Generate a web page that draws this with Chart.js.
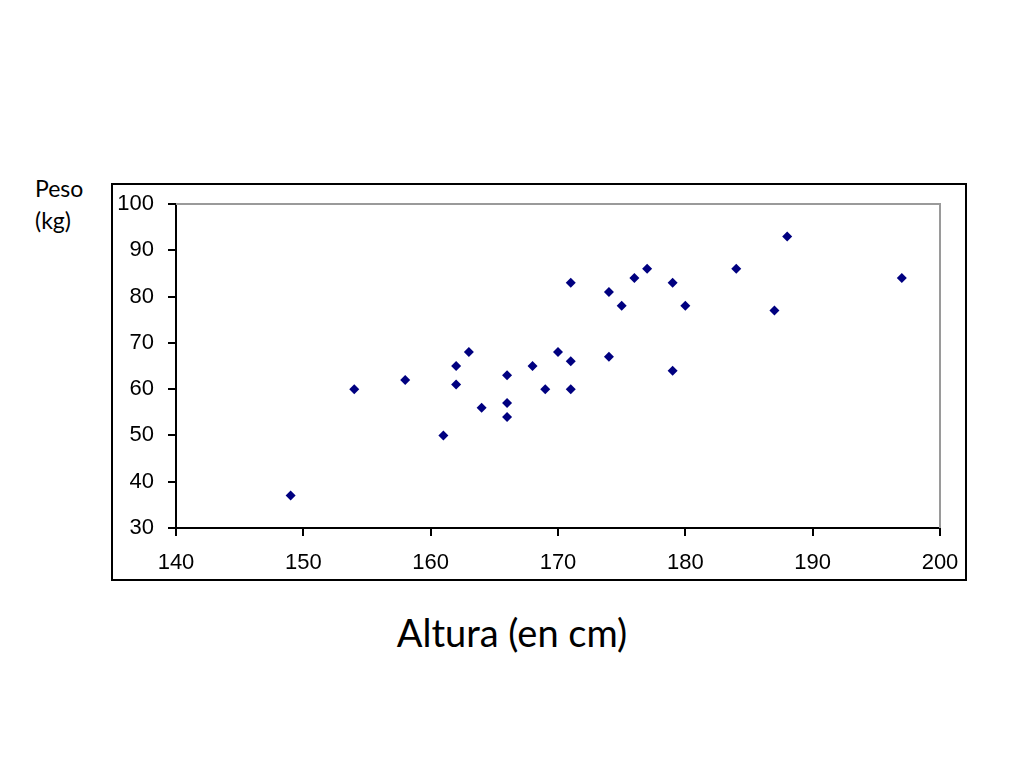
<!DOCTYPE html>
<html>
<head>
<meta charset="utf-8">
<script src="https://cdn.jsdelivr.net/npm/chart.js@4.4.0/dist/chart.umd.min.js"></script>
<style>
  html, body { margin: 0; padding: 0; background: #fff; }
  body { width: 1024px; height: 768px; position: relative; overflow: hidden; }
  #frame {
    position: absolute; left: 111px; top: 183px;
    width: 852px; height: 394px;
    border: 2px solid #000;
  }
  #frame canvas { display: block; }
  .lbl { position: absolute; font-family: Lato, "Noto Sans", sans-serif; color: #000; }
  #ylab { left: 35px; top: 172px; font-size: 23px; line-height: 32px; }
  #xlab { left: 0; width: 1024px; text-align: center; top: 608px; font-size: 38px; line-height: 48px; }
</style>
</head>
<body>
<div class="lbl" id="ylab">Peso<br>(kg)</div>
<div id="frame"><canvas id="c" width="852" height="394"></canvas></div>
<div class="lbl" id="xlab">Altura (en cm)</div>
<script>
// alturas (cm) y pesos (kg)
const alturas = [149, 154, 158, 161, 162, 162, 163, 164, 166, 166, 166, 168, 169, 170, 171, 171, 171, 174, 174, 175, 176, 177, 179, 179, 180, 184, 187, 188, 197];
const pesos   = [37, 60, 62, 50, 65, 61, 68, 56, 63, 57, 54, 65, 60, 68, 83, 66, 60, 81, 67, 78, 84, 86, 83, 64, 78, 86, 77, 93, 84];
const xTicks = [140, 150, 160, 170, 180, 190, 200];
const yTicks = [30, 40, 50, 60, 70, 80, 90, 100];

const puntos = alturas.map(function (a, i) { return { x: a, y: pesos[i] }; });

// bordes gris arriba y a la derecha del área de trazado
const plotBorder = {
  id: 'plotBorder',
  beforeDatasetsDraw: function (chart) {
    const a = chart.chartArea, ctx = chart.ctx;
    ctx.save();
    ctx.strokeStyle = '#9a9a9a';
    ctx.lineWidth = 2;
    ctx.beginPath();
    ctx.moveTo(a.left, a.top);
    ctx.lineTo(a.right, a.top);
    ctx.lineTo(a.right, a.bottom);
    ctx.stroke();
    ctx.restore();
  }
};

function sinPadding(s) {
  s.paddingLeft = 0; s.paddingRight = 0; s.paddingTop = 0; s.paddingBottom = 0;
}

new Chart(document.getElementById('c'), {
  type: 'scatter',
  data: {
    datasets: [{
      data: puntos,
      pointStyle: 'rectRot',
      pointRadius: 5,
      pointHoverRadius: 5,
      backgroundColor: '#000080',
      borderColor: '#000080',
      borderWidth: 0
    }]
  },
  options: {
    responsive: false,
    animation: false,
    layout: { padding: { left: 0, top: 19, right: 25, bottom: 0 } },
    plugins: { legend: { display: false }, tooltip: { enabled: false } },
    scales: {
      x: {
        type: 'linear', min: 140, max: 200,
        afterBuildTicks: function (s) { s.ticks = xTicks.map(function (v) { return { value: v }; }); },
        afterFit: function (s) { s.height = 51; sinPadding(s); },
        grid: { drawOnChartArea: false, color: '#000', tickLength: 8, lineWidth: 2 },
        border: { color: '#000', width: 2 },
        ticks: { color: '#000', padding: 14, maxRotation: 0, font: { family: 'Liberation Sans, Arial, sans-serif', size: 22 } }
      },
      y: {
        type: 'linear', min: 30, max: 100,
        afterBuildTicks: function (s) { s.ticks = yTicks.map(function (v) { return { value: v }; }); },
        afterFit: function (s) { s.width = 63; sinPadding(s); },
        grid: { drawOnChartArea: false, color: '#000', tickLength: 8, lineWidth: 2 },
        border: { color: '#000', width: 2 },
        ticks: { color: '#000', padding: 14, font: { family: 'Liberation Sans, Arial, sans-serif', size: 22 } }
      }
    }
  },
  plugins: [plotBorder]
});
</script>
</body>
</html>
